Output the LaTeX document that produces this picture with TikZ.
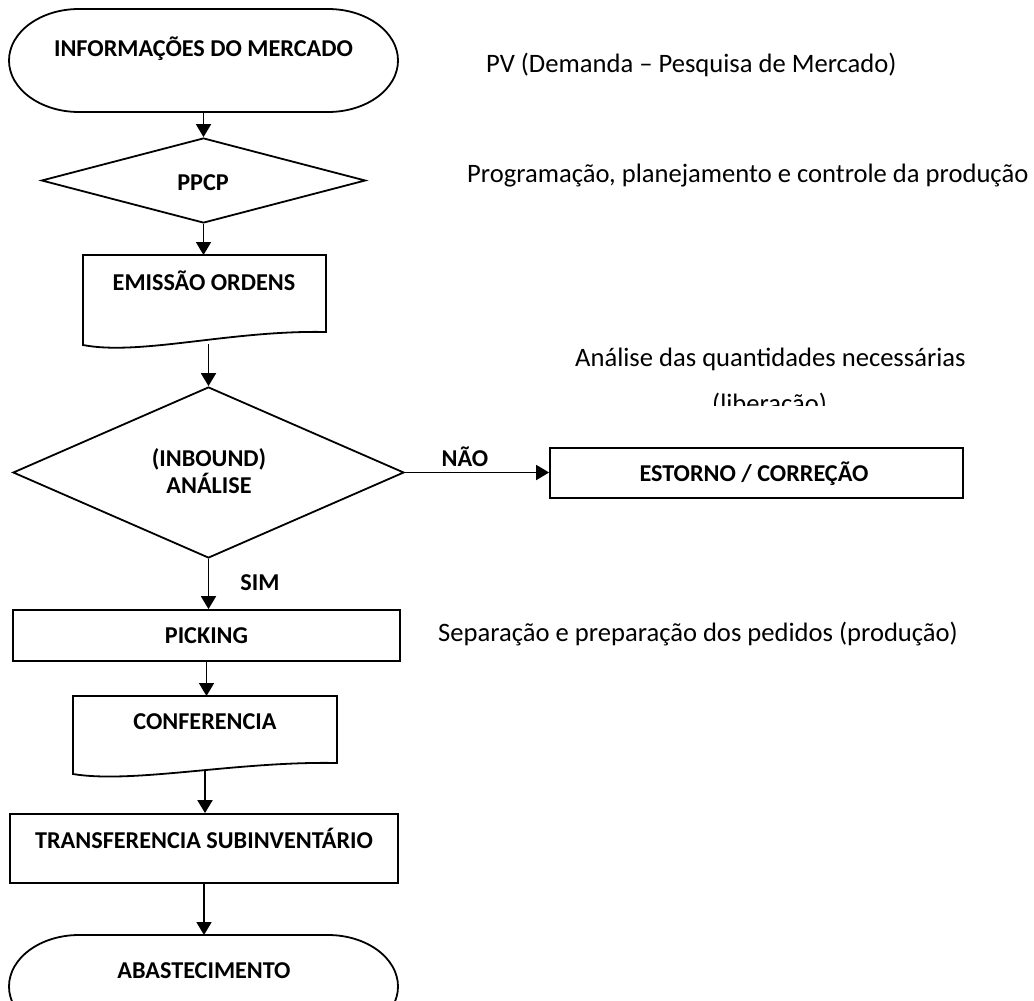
\documentclass[tikz,border=0pt]{standalone}
\usepackage{fontspec}
\setmainfont{Carlito}
\usetikzlibrary{shapes.geometric,arrows.meta,calc}
\tikzset{
  shp/.style={draw=black, line width=1.8pt},
  boxnode/.style={shp, rectangle, inner sep=0pt},
  ghost/.style={rectangle, inner sep=0pt, outer sep=0pt},
  dec/.style={shp, diamond, inner sep=0pt},
  arr/.style={line width=1.8pt, -{Triangle[length=13pt,width=15pt]}},
  bl/.style={font=\fontsize{24.2}{29}\selectfont\bfseries, anchor=base, inner sep=0pt},
  rl/.style={font=\fontsize{26.6}{32}\selectfont, anchor=base west, inner sep=0pt},
}
\begin{document}
\begin{tikzpicture}[x=1pt,y=-1pt]
\path[use as bounding box, clip] (0,0) rectangle (1034,1001);
\fill[white] (0,0) rectangle (1034,1001);

% start terminator
\node[ghost, minimum width=389pt, minimum height=103pt] (info) at (203.5,60.5) {};
\draw[shp] ([xshift=70pt]info.north west) -- ([xshift=-70pt]info.north east)
  arc[start angle=90,end angle=-90,x radius=70pt,y radius=51.5pt]
  -- ([xshift=70pt]info.south west)
  arc[start angle=270,end angle=90,x radius=70pt,y radius=51.5pt] -- cycle;
\node[bl] (infoT) at (203.5,56) {INFORMAÇÕES DO MERCADO};

% PPCP decision
\node[dec, minimum width=324pt, minimum height=85pt] (ppcp) at (203.5,180.5) {};
\node[bl] (ppcpT) at (203,190) {PPCP};

% document EMISSAO
\node[ghost, minimum width=243pt, minimum height=90pt] (emis) at (204.5,300) {};
\draw[shp] (emis.south west) -- (emis.north west) -- (emis.north east)
  -- ([yshift=13pt]emis.south east)
  .. controls ([xshift=-95pt,yshift=15pt]emis.south east) and ([xshift=57pt,yshift=-11pt]emis.south west) .. (emis.south west) -- cycle;
\node[bl] (emisT) at (204,290) {EMISSÃO ORDENS};

% inbound decision
\node[dec, minimum width=391pt, minimum height=171pt] (inb) at (208.5,472.5) {};
\node[bl] (inbT1) at (209,466) {(INBOUND)};
\node[bl] (inbT2) at (209,493) {ANÁLISE};
\node[bl] (nao) at (465,466) {NÃO};

% estorno
\node[boxnode, minimum width=413pt, minimum height=50pt] (est) at (756.5,473) {};
\node[bl] (estT) at (754,481) {ESTORNO / CORREÇÃO};

\node[bl] (sim) at (260,590) {SIM};

% picking
\node[boxnode, minimum width=387pt, minimum height=51pt] (pick) at (206.5,635.5) {};
\node[bl] (pickT) at (206.5,643) {PICKING};

% document CONFERENCIA
\node[ghost, minimum width=264pt, minimum height=78pt] (conf) at (205,735) {};
\draw[shp] (conf.south west) -- (conf.north west) -- (conf.north east)
  -- ([yshift=11pt]conf.south east)
  .. controls ([xshift=-100pt,yshift=13pt]conf.south east) and ([xshift=60pt,yshift=-10pt]conf.south west) .. (conf.south west) -- cycle;
\node[bl] (confT) at (205,729) {CONFERENCIA};

% transferencia
\node[boxnode, minimum width=388pt, minimum height=69pt] (trf) at (204,848.5) {};
\node[bl] (trfT) at (204,848) {TRANSFERENCIA SUBINVENTÁRIO};

% end terminator
\node[ghost, minimum width=389pt, minimum height=103pt] (abast) at (203.5,986.5) {};
\draw[shp] ([xshift=70pt]abast.north west) -- ([xshift=-70pt]abast.north east)
  arc[start angle=90,end angle=-90,x radius=70pt,y radius=51.5pt]
  -- ([xshift=70pt]abast.south west)
  arc[start angle=270,end angle=90,x radius=70pt,y radius=51.5pt] -- cycle;
\node[bl] (abastT) at (204,978) {ABASTECIMENTO};

% side notes
\node[rl] (pv) at (486,72) {PV (Demanda – Pesquisa de Mercado)};
\node[rl] (prog) at (467,182) {Programação, planejamento e controle da produção};
\node[rl] (ana) at (575,366) {Análise das quantidades necessárias};
\begin{scope}
  \clip (540,375) rectangle (1034,405);
  \node[rl] (lib) at (712,412) {(liberação)};
\end{scope}
\node[rl] (sep) at (438,641) {Separação e preparação dos pedidos (produção)};

% connectors
\draw[arr] (info.south) -- (ppcp.north);
\draw[arr] (ppcp.south) -- (ppcp.south |- emis.north);
\draw[arr] ([yshift=1pt]emis.south -| inb.north) -- (inb.north);
\draw[arr] (inb.east) -- (inb.east -| est.west);
\draw[arr] (inb.south) -- (inb.south |- pick.north);
\draw[arr] (pick.south) -- (pick.south |- conf.north);
\draw[arr] ([yshift=3pt]conf.south) -- (conf.south |- trf.north);
\draw[arr] (trf.south) -- (trf.south |- abast.north);
\end{tikzpicture}
\end{document}
